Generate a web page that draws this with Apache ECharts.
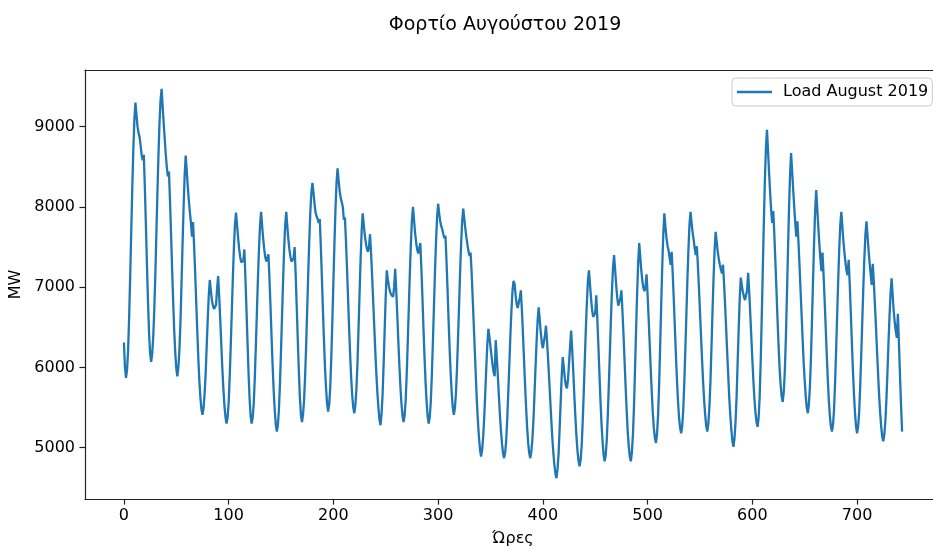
<!DOCTYPE html>
<html><head><meta charset="utf-8">
<script src="https://cdn.jsdelivr.net/npm/echarts@6/dist/echarts.min.js"></script>
<style>html,body{margin:0;padding:0;background:#fff}#c{width:933px;height:549px}</style>
</head><body><div id="c"></div>
<script>
const day01=[6310,6000,5870,5970,6210,6630,7140,7690,8240,8720,9090,9300,9150,9000,8920,8870,8760,8640,8580,8650,8240,7770,7280,6820];
const day02=[6430,6180,6070,6170,6380,6720,7160,7670,8180,8650,9060,9330,9470,9250,9040,8840,8650,8490,8380,8440,8080,7670,7240,6830];
const day03=[6470,6190,5990,5890,6000,6220,6570,7040,7540,8000,8390,8640,8450,8250,8080,7930,7800,7630,7810,7520,7190,6830,6470,6130];
const day04=[5840,5630,5480,5410,5490,5660,5910,6250,6590,6890,7090,6960,6840,6770,6730,6720,6780,6990,7140,6880,6590,6280,5980,5730];
const day05=[5520,5380,5300,5380,5560,5880,6270,6690,7110,7480,7770,7930,7780,7620,7480,7380,7310,7290,7330,7470,7120,6730,6320,5930];
const day06=[5610,5390,5300,5380,5560,5880,6280,6700,7120,7490,7780,7940,7760,7600,7470,7370,7320,7330,7410,7100,6750,6370,6020,5710];
const day07=[5470,5290,5200,5280,5470,5800,6210,6650,7090,7480,7780,7940,7760,7600,7470,7380,7320,7300,7360,7500,7150,6760,6350,5960];
const day08=[5630,5410,5320,5410,5590,5890,6270,6720,7170,7590,7940,8180,8300,8180,8040,7930,7880,7850,7800,7850,7510,7130,6720,6340];
const day09=[6000,5740,5550,5450,5540,5750,6120,6570,7060,7540,7970,8300,8480,8330,8200,8110,8060,8000,7840,7870,7580,7240,6870,6500];
const day10=[6160,5870,5650,5500,5430,5530,5730,6050,6480,6920,7350,7700,7920,7780,7650,7550,7480,7440,7500,7660,7420,7140,6830,6520];
const day11=[6210,5930,5690,5500,5350,5280,5420,5670,6050,6480,6900,7210,7100,7010,6950,6910,6890,6880,7000,7230,6960,6660,6330,6030];
const day12=[5760,5550,5400,5320,5400,5590,5910,6310,6740,7170,7540,7840,8000,7840,7680,7560,7470,7420,7440,7550,7240,6880,6490,6140];
const day13=[5820,5570,5390,5300,5380,5570,5900,6310,6750,7190,7570,7870,8040,7920,7820,7760,7720,7660,7610,7640,7330,6970,6590,6230];
const day14=[5920,5680,5500,5410,5490,5670,5980,6360,6770,7190,7550,7830,7980,7850,7730,7620,7530,7450,7390,7430,7180,6870,6540,6220];
const day15=[5890,5580,5330,5130,4980,4890,4970,5130,5370,5680,6000,6290,6480,6380,6260,6140,6030,5940,5890,6340,6130,5900,5650,5410];
const day16=[5210,5050,4930,4870,4940,5090,5360,5690,6040,6400,6710,6950,7080,7040,6900,6790,6740,6760,6870,6960,6710,6420,6100,5790];
const day17=[5500,5250,5060,4930,4870,4950,5100,5340,5660,6000,6320,6580,6750,6600,6440,6310,6240,6260,6400,6520,6330,6100,5860,5610];
const day18=[5360,5130,4940,4790,4680,4620,4730,4920,5230,5560,5890,6130,6000,5860,5770,5740,5850,6050,6260,6460,6230,5960,5670,5400];
const day19=[5160,4970,4840,4770,4840,5010,5310,5670,6070,6460,6800,7070,7210,7040,6860,6720,6630,6610,6680,6900,6610,6280,5930,5590];
const day20=[5300,5080,4910,4830,4910,5090,5400,5780,6190,6600,6960,7250,7400,7220,7030,6870,6770,6760,6860,6960,6700,6410,6090,5770];
const day21=[5470,5210,5020,4890,4830,4940,5160,5510,5970,6460,6920,7300,7550,7380,7210,7080,6990,6950,7000,7160,6910,6610,6300,5980];
const day22=[5690,5430,5240,5120,5060,5170,5400,5780,6260,6780,7260,7660,7920,7760,7620,7520,7460,7370,7280,7440,7170,6850,6510,6170];
const day23=[5860,5590,5380,5250,5180,5260,5460,5790,6200,6640,7090,7470,7780,7940,7800,7680,7590,7480,7400,7510,7280,7000,6700,6400];
const day24=[6100,5820,5590,5410,5270,5200,5300,5500,5820,6250,6700,7120,7470,7690,7560,7440,7350,7280,7220,7170,7280,7050,6780,6490];
const day25=[6190,5900,5620,5400,5220,5080,5010,5120,5330,5640,6070,6490,6870,7120,7020,6940,6880,6840,6820,6960,7180,6950,6680,6390];
const day26=[6110,5840,5610,5440,5320,5260,5370,5630,6070,6630,7220,7810,8330,8740,8960,8700,8430,8180,7960,7800,7950,7660,7330,6980];
const day27=[6620,6290,6000,5790,5640,5570,5690,5940,6350,6870,7430,7960,8390,8670,8450,8220,8000,7800,7630,7820,7580,7290,6980,6670];
const day28=[6360,6070,5840,5640,5500,5430,5540,5760,6130,6600,7100,7570,7960,8210,7980,7750,7540,7350,7200,7430,7160,6850,6520,6180];
const day29=[5870,5600,5400,5270,5200,5280,5470,5800,6210,6650,7090,7480,7780,7940,7750,7570,7420,7300,7200,7150,7340,7040,6690,6330];
const day30=[5980,5680,5440,5270,5180,5260,5440,5760,6160,6580,7000,7370,7660,7820,7640,7460,7300,7160,7030,7290,7070,6800,6520,6230];
const day31=[5940,5670,5450,5270,5140,5080,5160,5320,5590,5930,6300,6640,6930,7110,6900,6700,6560,6450,6370,6670,6300,5900,5530,5200];
const xTicks=[0,100,200,300,400,500,600,700];
const yTicks=[5000,6000,7000,8000,9000];
const seriesName='Load August 2019';

const load=[].concat(day01,day02,day03,day04,day05,day06,day07,day08,day09,day10,day11,day12,day13,day14,day15,day16,day17,day18,day19,day20,day21,day22,day23,day24,day25,day26,day27,day28,day29,day30,day31);
const pts=load.map((v,i)=>[i,v]);
const font='DejaVu Sans';
const axisCol='#222';
const chart=echarts.init(document.getElementById('c'),null,{renderer:'canvas'});
chart.setOption({
  animation:false,
  backgroundColor:'#fff',
  title:{text:'Φορτίο Αυγούστου 2019',left:500,top:11,textAlign:'center',
    textStyle:{fontFamily:font,fontSize:19,fontWeight:'normal',color:'#000'}},
  legend:{data:[seriesName],left:732,top:78,icon:'rect',itemWidth:35,itemHeight:2.4,
    padding:[6,4,6,5],borderColor:'#cccccc',borderWidth:1,borderRadius:4,backgroundColor:'rgba(255,255,255,0.8)',
    textStyle:{fontFamily:font,fontSize:16,color:'#000',padding:[0,0,0,6]}},
  grid:{left:85,top:70,width:856,height:429,show:false,outerBoundsMode:'none',containLabel:false},
  xAxis:[{type:'value',min:-37.15,max:780.15,name:'Ώρες',nameLocation:'middle',nameGap:32,
    nameTextStyle:{fontFamily:font,fontSize:16,color:'#000'},
    axisLine:{show:true,onZero:false,lineStyle:{color:axisCol,width:1.2}},
    axisTick:{show:true,customValues:xTicks,length:5.6,lineStyle:{color:axisCol,width:1.2}},
    axisLabel:{customValues:xTicks,margin:9,fontFamily:font,fontSize:16,color:'#000',formatter:v=>String(v)},
    splitLine:{show:false}},
   {type:'value',position:'top',min:-37.15,max:780.15,
    axisLine:{show:true,onZero:false,lineStyle:{color:axisCol,width:1.2}},
    axisTick:{show:false},axisLabel:{show:false},splitLine:{show:false}}],
  yAxis:{type:'value',min:4361,max:9706,name:'MW',nameLocation:'middle',nameGap:54,nameRotate:90,
    nameTextStyle:{fontFamily:font,fontSize:16,color:'#000'},
    axisLine:{show:true,onZero:false,lineStyle:{color:axisCol,width:1.2}},
    axisTick:{show:true,customValues:yTicks,length:5.6,lineStyle:{color:axisCol,width:1.2}},
    axisLabel:{customValues:yTicks,margin:10,fontFamily:font,fontSize:16,color:'#000',formatter:v=>String(v)},
    splitLine:{show:false}},
  series:[{name:seriesName,type:'line',xAxisIndex:0,data:pts,showSymbol:false,symbol:'none',
    lineStyle:{color:'#1f77b4',width:2.3},itemStyle:{color:'#1f77b4'},clip:true}]
});
</script></body></html>
